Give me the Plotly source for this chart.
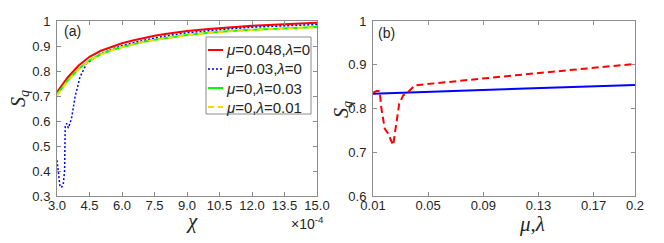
import plotly.graph_objects as go

# ---------------- data: panel (a) ----------------
chi_red = [3.0, 3.5, 4.0, 4.5, 5.0, 5.5, 6.0, 6.5, 7.0, 7.5, 8.0, 9.0, 10.0, 10.5, 11.0, 12.0, 13.0, 13.5, 14.0, 15.0]
sq_red = [0.715, 0.775, 0.822, 0.857, 0.880, 0.897, 0.911, 0.922, 0.932, 0.941, 0.948, 0.960, 0.968, 0.972, 0.975, 0.981, 0.985, 0.987, 0.989, 0.993]

chi_blue = [3.0, 3.07, 3.14, 3.22, 3.29, 3.35, 3.38, 3.45, 3.52, 3.6, 3.68, 3.83, 4.06, 4.37, 4.68, 5.0, 5.5, 6.0, 7.0,
            7.5, 8.0, 9.0, 10.0, 10.5, 11.0, 12.0, 13.0, 14.0, 15.0]
sq_blue = [0.443, 0.39, 0.336, 0.336, 0.347, 0.40, 0.58, 0.59, 0.572, 0.59, 0.615, 0.695, 0.776, 0.83, 0.85, 0.868,
           0.886, 0.901, 0.923, 0.932, 0.940, 0.953, 0.962, 0.966, 0.969, 0.975, 0.979, 0.983, 0.986]

chi_green = [3.0, 3.5, 4.0, 4.5, 5.0, 5.5, 6.0, 6.5, 7.0, 7.5, 8.0, 9.0, 10.0, 10.5, 11.0, 12.0, 13.0, 13.5, 14.0, 15.0]
sq_green = [0.706, 0.763, 0.809, 0.843, 0.866, 0.883, 0.896, 0.907, 0.917, 0.925, 0.932, 0.944, 0.953, 0.957, 0.960, 0.965, 0.969, 0.971, 0.973, 0.976]

chi_yellow = [3.0, 3.5, 4.0, 4.5, 5.0, 5.5, 6.0, 6.5, 7.0, 7.5, 8.0, 9.0, 10.0, 10.5, 11.0, 12.0, 13.0, 13.5, 14.0, 15.0]
sq_yellow = [0.702, 0.760, 0.806, 0.841, 0.865, 0.882, 0.895, 0.906, 0.916, 0.924, 0.931, 0.943, 0.952, 0.956, 0.959, 0.964, 0.968, 0.970, 0.972, 0.975]

names_a = ["<i>μ</i>=0.048,<i>λ</i>=0", "<i>μ</i>=0.03,<i>λ</i>=0",
           "<i>μ</i>=0,<i>λ</i>=0.03", "<i>μ</i>=0,<i>λ</i>=0.01"]

chi_ticks = [3.0, 4.5, 6.0, 7.5, 9.0, 10.5, 12.0, 13.5, 15.0]
chi_ticktext = ["3.0", "4.5", "6.0", "7.5", "9.0", "10.5", "12.0", "13.5", "15.0"]
sq_ticks_a = [0.3, 0.4, 0.5, 0.6, 0.7, 0.8, 0.9, 1.0]
sq_ticktext_a = ["0.3", "0.4", "0.5", "0.6", "0.7", "0.8", "0.9", "1"]

# ---------------- data: panel (b) ----------------
ml_blue = [0.01, 0.05, 0.10, 0.15, 0.20]
sq_b_blue = [0.834, 0.838, 0.843, 0.849, 0.854]

ml_red = [0.01, 0.0125, 0.0148, 0.0161, 0.0185, 0.0209, 0.0246, 0.0265, 0.029, 0.0319, 0.0355, 0.0404,
          0.08, 0.12, 0.16, 0.20]
sq_b_red = [0.836, 0.840, 0.840, 0.800, 0.754, 0.743, 0.716, 0.758, 0.811, 0.830, 0.838, 0.853,
            0.866, 0.878, 0.890, 0.902]

ml_ticks = [0.01, 0.05, 0.09, 0.13, 0.17, 0.2]
ml_ticktext = ["0.01", "0.05", "0.09", "0.13", "0.17", "0.2"]
sq_ticks_b = [0.6, 0.7, 0.8, 0.9, 1.0]
sq_ticktext_b = ["0.6", "0.7", "0.8", "0.9", "1"]

# ---------------- figure ----------------
W, H = 664, 243


def px(x):
    return x / W


def py(y):
    return 1 - y / H


colors_a = ["#FF0000", "#0000FF", "#00FF00", "#FFD500"]
dashes_a = ["solid", "2px,2px", "solid", "6px,4px"]
widths_a = [2, 1.5, 2, 2]
series_a = [(chi_red, sq_red), (chi_blue, sq_blue), (chi_green, sq_green), (chi_yellow, sq_yellow)]

fig = go.Figure()
for (xs, ys), nm, c, d, w in zip(series_a, names_a, colors_a, dashes_a, widths_a):
    fig.add_trace(go.Scatter(x=xs, y=ys, mode="lines", name=nm, showlegend=False,
                             line=dict(color=c, width=w, dash=d), xaxis="x", yaxis="y"))

fig.add_trace(go.Scatter(x=ml_blue, y=sq_b_blue, mode="lines", showlegend=False,
                         line=dict(color="#0000FF", width=2), xaxis="x2", yaxis="y2"))
fig.add_trace(go.Scatter(x=ml_red, y=sq_b_red, mode="lines", showlegend=False,
                         line=dict(color="#FF0000", width=2, dash="7px,4px"), xaxis="x2", yaxis="y2"))

axis_common = dict(showline=True, linecolor="#8c8c8c", linewidth=1, mirror="ticks",
                   ticks="inside", ticklen=4, tickcolor="#8c8c8c", showgrid=False, zeroline=False,
                   automargin=False,
                   tickfont=dict(family="Liberation Sans, Arial", size=13, color="#262626"))

ydom = [py(196), py(21)]
fig.update_layout(
    template="none",
    width=W, height=H, margin=dict(l=0, r=0, t=0, b=0),
    paper_bgcolor="white", plot_bgcolor="white",
    xaxis=dict(domain=[px(57), px(317)], range=[3, 15], tickvals=chi_ticks, ticktext=chi_ticktext,
               anchor="y", ticklabelstandoff=-3, **axis_common),
    yaxis=dict(domain=ydom, range=[0.3, 1], tickvals=sq_ticks_a, ticktext=sq_ticktext_a,
               anchor="x", ticklabelstandoff=3, **axis_common),
    xaxis2=dict(domain=[px(373), px(635)], range=[0.01, 0.2], tickvals=ml_ticks, ticktext=ml_ticktext,
                anchor="y2", ticklabelstandoff=-3, **axis_common),
    yaxis2=dict(domain=ydom, range=[0.6, 1], tickvals=sq_ticks_b, ticktext=sq_ticktext_b,
                anchor="x2", ticklabelstandoff=3, **axis_common),
    showlegend=False,
)

# legend box (panel a), drawn in paper coordinates
leg_left, leg_right, leg_top, leg_bottom = 206, 311, 37, 114
leg_rows = [50, 69, 88, 107]
shapes = [dict(type="rect", xref="paper", yref="paper",
               x0=px(leg_left), x1=px(leg_right), y0=py(leg_bottom), y1=py(leg_top),
               line=dict(color="#8c8c8c", width=1), fillcolor="white", layer="above")]
for row, c, d, w in zip(leg_rows, colors_a, dashes_a, widths_a):
    shapes.append(dict(type="line", xref="paper", yref="paper",
                       x0=px(208), x1=px(223), y0=py(row), y1=py(row),
                       line=dict(color=c, width=w, dash=d), layer="above"))
fig.update_layout(shapes=shapes)

serif = "Liberation Serif, DejaVu Serif, serif"
sans = "Liberation Sans, Arial"
ann = [
    dict(text="(a)", x=px(62), y=py(31), xanchor="left", yanchor="middle",
         font=dict(family=sans, size=14, color="#262626")),
    dict(text="(b)", x=px(376), y=py(33), xanchor="left", yanchor="middle",
         font=dict(family=sans, size=14, color="#262626")),
    dict(text="<i>χ</i>", x=px(192), y=py(221), xanchor="center", yanchor="middle",
         font=dict(family=serif, size=21, color="#262626")),
    dict(text="<i>μ</i>,<i>λ</i>", x=px(532), y=py(224), xanchor="center", yanchor="middle",
         font=dict(family=serif, size=21, color="#262626")),
    dict(text="<i>S<sub>q</sub></i>", x=px(19), y=py(99), xanchor="center", yanchor="middle",
         textangle=-90, font=dict(family=serif, size=20, color="#262626")),
    dict(text="<i>S<sub>q</sub></i>", x=px(343), y=py(110), xanchor="center", yanchor="middle",
         textangle=-90, font=dict(family=serif, size=20, color="#262626")),
    dict(text="×10<sup>-4</sup>", x=px(326), y=py(223), xanchor="right", yanchor="middle",
         font=dict(family=sans, size=14, color="#262626")),
]
for row, nm in zip(leg_rows, names_a):
    ann.append(dict(text=nm, x=px(224), y=py(row), xanchor="left", yanchor="middle",
                    font=dict(family=sans, size=15, color="#262626")))
for a in ann:
    a.update(xref="paper", yref="paper", showarrow=False)
fig.update_layout(annotations=ann)

fig.write_html("out.html", config={"displayModeBar": False},
               post_script="document.body.style.margin='0';document.body.style.padding='0';")
